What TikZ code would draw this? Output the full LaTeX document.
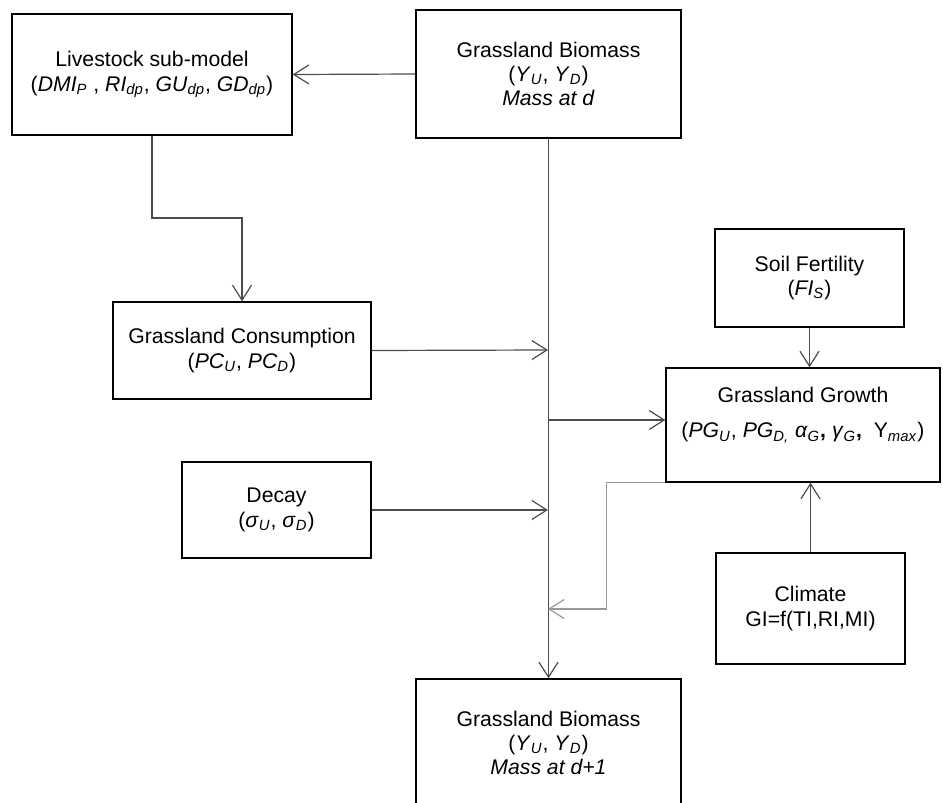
\documentclass[tikz,border=0pt]{standalone}
\usepackage{fontspec}
\setmainfont{Liberation Sans}
\usetikzlibrary{arrows.meta}
\newcommand{\vsub}[2]{\textit{#1}\textsubscript{\textit{#2}}}

\begin{document}
\begin{tikzpicture}[
    x=0.5pt, y=-0.5pt,
    box/.style={rectangle, draw, line width=0.7pt, inner sep=0pt, align=center, font=\fontsize{10.6}{12.2}\selectfont},
    boxtext/.style={inner sep=0pt, align=center, font=\fontsize{10.6}{12.2}\selectfont},
    arrow/.style={-{Straight Barb[length=7.5pt,width=9.5pt]}, line width=0.6pt, draw=black!70},
    loopline/.style={arrow, draw=black!40}
]
\path[use as bounding box, clip] (0,0) rectangle (943,803);

% Biomass boxes
\node[box, minimum width=132.5pt, minimum height=64pt] (biotop) at (548.5,74) {Grassland Biomass\\(\vsub{Y}{U}, \vsub{Y}{D})\\\textit{Mass at d}};
\node[box, minimum width=132.5pt, minimum height=64pt] (biobot) at (548.5,743) {Grassland Biomass\\(\vsub{Y}{U}, \vsub{Y}{D})\\\textit{Mass at d+1}};

% Left side
\node[box, minimum width=140pt, minimum height=60.5pt] (live) at (152,74.5) {Livestock sub-model\\(\vsub{DMI}{P} , \vsub{RI}{dp}, \vsub{GU}{dp}, \vsub{GD}{dp})};
\node[box, minimum width=129pt, minimum height=48.5pt] (cons) at (242,350.5) {Grassland Consumption\\(\vsub{PC}{U}, \vsub{PC}{D})};
\node[box, minimum width=94.5pt, minimum height=48pt] (decay) at (276.5,510) {Decay\\(\vsub{σ}{U}, \vsub{σ}{D})};

% Right side
\node[box, minimum width=94.5pt, minimum height=49pt] (soil) at (809.5,278) {Soil Fertility\\(\vsub{FI}{S})};
\node[box, minimum width=137pt, minimum height=57pt] (grow) at (803,425) {};
\node[boxtext] (growtxt) at (803,415) {Grassland Growth\\[5.5pt](\vsub{PG}{U}, \vsub{PG}{D,} \vsub{α}{G}\textbf{,} \vsub{γ}{G}\textbf{,} \ Y\textsubscript{\textit{max}})};
\node[box, minimum width=94.5pt, minimum height=55.5pt] (clim) at (810.5,608.5) {Climate\\GI=f(TI,RI,MI)};

% Junctions on the main line
\coordinate (elbow) at (152,218);
\coordinate (t1) at (548,350);
\coordinate (t2) at (548,420);
\coordinate (t3) at (548,510);
\coordinate (t4) at (548,609);

% Main flow
\draw[arrow] (biotop.south) -- (biobot.north);
\draw[arrow] (biotop.west) -- (live.east);
\draw[arrow] (live.south) -- (elbow) -| (cons.north);
\draw[arrow] (cons.east) -- (t1);
\draw[arrow] (decay.east) -- (t3);
\draw[arrow] (t2) -- (t2 -| grow.west);

% Growth inputs
\draw[arrow] (soil.south) -- (soil.south |- grow.north);
\draw[arrow] (clim.north) -- (clim.north |- grow.south);
\draw[loopline] (grow.south west) -- ++(-59,0) |- (t4);

\end{tikzpicture}
\end{document}
